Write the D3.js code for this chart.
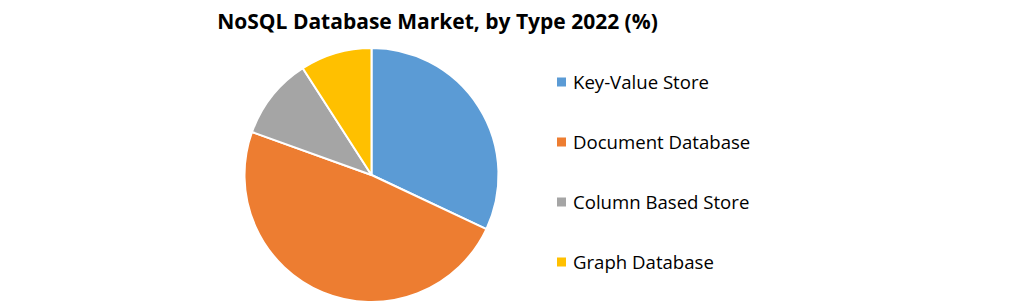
<!DOCTYPE html>
<html>
<head>
<meta charset="utf-8">
<script src="https://cdn.jsdelivr.net/npm/d3@7"></script>
<style>
  body { margin: 0; background: #fff; }
  text { font-family: "Open Sans", sans-serif; }
</style>
</head>
<body>
<div id="chart"></div>
<script>
// Chart data
const categories = ["Key-Value Store", "Document Database", "Column Based Store", "Graph Database"];
const shares = [32.0, 48.5, 10.4, 9.1];
const colors = ["#5B9BD5", "#ED7D31", "#A5A5A5", "#FFC000"];
const title = "NoSQL Database Market, by Type 2022 (%)";

const width = 1021, height = 304;

const svg = d3.select("#chart")
  .append("svg")
  .attr("width", width)
  .attr("height", height);

// Title
svg.append("text")
  .attr("x", 437.5)
  .attr("y", 29)
  .attr("text-anchor", "middle")
  .attr("font-size", "21px")
  .attr("font-weight", "bold")
  .attr("fill", "#000")
  .text(title);

// Pie
const data = categories.map((c, i) => ({ name: c, value: shares[i] }));
const pie = d3.pie().sort(null).value(d => d.value);
const radius = 127;
const arc = d3.arc().innerRadius(0).outerRadius(radius);
const color = d3.scaleOrdinal().domain(categories).range(colors);

const g = svg.append("g")
  .attr("transform", "translate(371.5,175)");

g.selectAll("path")
  .data(pie(data))
  .enter()
  .append("path")
  .attr("d", arc)
  .attr("fill", d => color(d.data.name))
  .attr("stroke", "#fff")
  .attr("stroke-width", 2)
  .attr("stroke-linejoin", "round");

// Legend
const legendY = d3.scalePoint().domain(categories).range([82, 262]);

const legend = svg.selectAll(".legend")
  .data(categories)
  .enter()
  .append("g")
  .attr("class", "legend")
  .attr("transform", d => `translate(557,${legendY(d)})`);

legend.append("rect")
  .attr("x", 0)
  .attr("y", -4.5)
  .attr("width", 9)
  .attr("height", 9)
  .attr("fill", d => color(d));

legend.append("text")
  .attr("x", 16)
  .attr("y", 0)
  .attr("dy", "0.35em")
  .attr("font-size", "18.6px")
  .attr("fill", "#000")
  .text(d => d);
</script>
</body>
</html>
